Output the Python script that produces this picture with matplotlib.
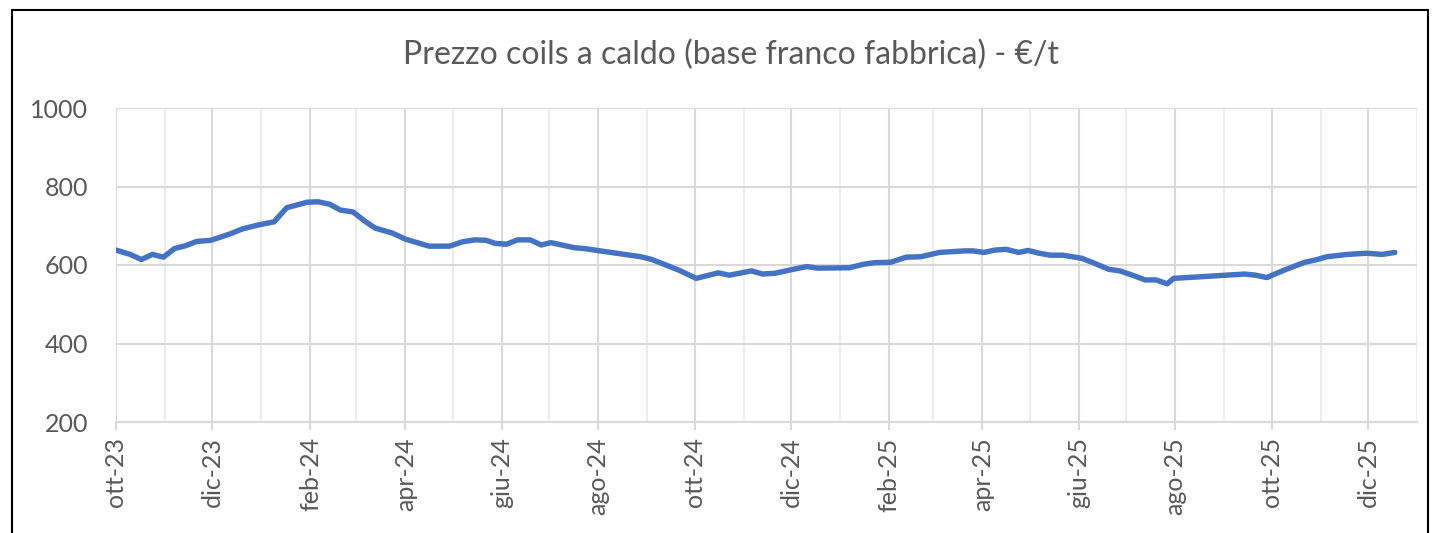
import matplotlib
matplotlib.use('Agg')
import matplotlib.pyplot as plt
import matplotlib.dates as mdates
import matplotlib.patches as patches
import pandas as pd

# punti (prezzo HRC, €/t)
date = ['2023-10-01', '2023-10-10', '2023-10-17', '2023-10-24', '2023-10-31',
        '2023-11-07', '2023-11-14', '2023-11-21', '2023-11-30', '2023-12-12',
        '2023-12-20', '2023-12-30', '2024-01-09', '2024-01-17', '2024-01-30',
        '2024-02-06', '2024-02-13', '2024-02-20', '2024-02-28', '2024-03-07',
        '2024-03-13', '2024-03-24', '2024-04-01', '2024-04-16', '2024-04-29',
        '2024-05-07', '2024-05-15', '2024-05-22', '2024-05-28', '2024-06-04',
        '2024-06-11', '2024-06-19', '2024-06-26', '2024-07-02', '2024-07-17',
        '2024-07-23', '2024-08-28', '2024-09-04', '2024-09-21', '2024-10-02',
        '2024-10-16', '2024-10-23', '2024-11-06', '2024-11-13', '2024-11-21',
        '2024-11-30', '2024-12-11', '2024-12-18', '2025-01-07', '2025-01-16',
        '2025-01-23', '2025-02-02', '2025-02-12', '2025-02-21', '2025-03-05',
        '2025-03-21', '2025-03-26', '2025-04-02', '2025-04-09', '2025-04-16',
        '2025-04-24', '2025-04-30', '2025-05-07', '2025-05-14', '2025-05-22',
        '2025-06-03', '2025-06-10', '2025-06-20', '2025-06-27', '2025-07-05',
        '2025-07-13', '2025-07-20', '2025-07-27', '2025-07-31', '2025-08-17',
        '2025-09-14', '2025-09-21', '2025-09-28', '2025-10-09', '2025-10-22',
        '2025-10-29', '2025-11-05', '2025-11-18', '2025-11-30', '2025-12-10',
        '2025-12-18']
prezzo = [638, 627, 614, 627, 620,
          642, 649, 660, 663, 679,
          692, 702, 710, 746, 760,
          761, 755, 740, 735, 710,
          694, 681, 666, 648, 648,
          659, 664, 663, 655, 653,
          664, 664, 651, 657, 644,
          642, 621, 614, 587, 566,
          580, 574, 585, 577, 579,
          587, 596, 592, 593, 602,
          606, 607, 620, 621, 632,
          636, 636, 632, 638, 640,
          632, 637, 630, 625, 625,
          617, 606, 589, 585, 574,
          562, 562, 552, 566, 570,
          577, 574, 568, 587, 607,
          613, 621, 627, 630, 627,
          632]
mesi = ['gen', 'feb', 'mar', 'apr', 'mag', 'giu',
        'lug', 'ago', 'set', 'ott', 'nov', 'dic']

x = pd.to_datetime(date)
grigio = '#595959'

fig = plt.figure(figsize=(14.32, 5.33), dpi=100)
ax = fig.add_axes([116 / 1432, 1 - 422 / 533, 1301 / 1432, 314 / 533])

ax.plot(x, prezzo, color='#4472C4', lw=3.9, solid_joinstyle='round',
        solid_capstyle='round', zorder=3)

ax.set_ylim(200, 1000)
ax.set_yticks([200, 400, 600, 800, 1000])
ax.set_xlim(pd.Timestamp('2023-10-01'), pd.Timestamp('2026-01-01'))

ax.xaxis.set_major_locator(mdates.MonthLocator(bymonth=[2, 4, 6, 8, 10, 12]))
ax.xaxis.set_minor_locator(mdates.MonthLocator())
ax.xaxis.set_major_formatter(plt.FuncFormatter(
    lambda v, p: '%s-%s' % (mesi[mdates.num2date(v).month - 1],
                           mdates.num2date(v).strftime('%y'))))

ax.grid(axis='y', color='#d9d9d9', lw=1.5, zorder=0)
ax.grid(axis='x', which='major', color='#d9d9d9', lw=1.5, zorder=0)
ax.grid(axis='x', which='minor', color='#ececec', lw=1.5, zorder=0)

for s in ['top', 'right', 'left']:
    ax.spines[s].set_visible(False)
ax.spines['bottom'].set_color('#d9d9d9')
ax.spines['bottom'].set_linewidth(1.5)

ax.tick_params(axis='y', length=0, pad=20, labelsize=18, labelcolor=grigio)
ax.tick_params(axis='x', which='major', length=6, width=1.5, color='#d9d9d9',
               pad=5, labelsize=18, labelcolor=grigio, labelrotation=90)
ax.tick_params(axis='x', which='minor', length=0)
for lab in ax.get_xticklabels() + ax.get_yticklabels():
    lab.set_family('Lato')

fig.text(731 / 1432, 1 - 55 / 533,
         'Prezzo coils a caldo (base franco fabbrica) - €/t',
         ha='center', va='center', fontsize=23, color=grigio, family='Lato')

# cornice del grafico (tagliata in basso come nell'originale)
fig.patches.append(patches.Rectangle((12 / 1432, -0.05), 1416 / 1432,
                                     1.05 - 10 / 533, transform=fig.transFigure,
                                     fill=False, edgecolor='black', lw=1.5))

plt.savefig('out.png', dpi=100)
plt.close()
